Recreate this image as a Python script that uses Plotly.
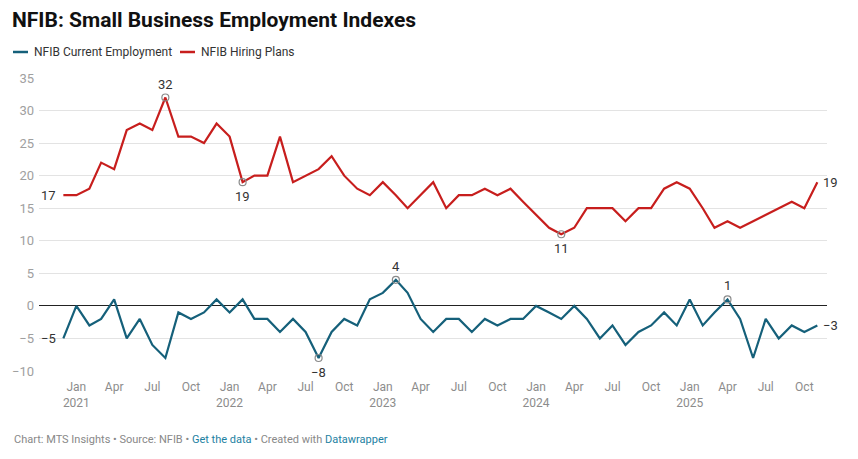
import pandas as pd
import plotly.graph_objects as go

# ---- data ----
months = [d.strftime("%Y-%m-%d") for d in pd.date_range("2020-12-01", periods=60, freq="MS")]

current_employment = [-5, 0, -3, -2, 1, -5, -2, -6, -8, -1, -2, -1, 1, -1, 1, -2, -2, -4, -2,
                      -4, -8, -4, -2, -3, 1, 2, 4, 2, -2, -4, -2, -2, -4, -2, -3, -2, -2, 0,
                      -1, -2, 0, -2, -5, -3, -6, -4, -3, -1, -3, 1, -3, -1, 1, -2, -8, -2,
                      -5, -3, -4, -3]

hiring_plans = [17, 17, 18, 22, 21, 27, 28, 27, 32, 26, 26, 25, 28, 26, 19, 20, 20, 26, 19,
                20, 21, 23, 20, 18, 17, 19, 17, 15, 17, 19, 15, 17, 17, 18, 17, 18, 16, 14,
                12, 11, 12, 15, 15, 15, 13, 15, 15, 18, 19, 18, 15, 12, 13, 12, 13, 14,
                15, 16, 15, 19]

tick_dates = ["2021-01-01", "2021-04-01", "2021-07-01", "2021-10-01",
              "2022-01-01", "2022-04-01", "2022-07-01", "2022-10-01",
              "2023-01-01", "2023-04-01", "2023-07-01", "2023-10-01",
              "2024-01-01", "2024-04-01", "2024-07-01", "2024-10-01",
              "2025-01-01", "2025-04-01", "2025-07-01", "2025-10-01"]
tick_labels = ["Jan<br>2021", "Apr", "Jul", "Oct",
               "Jan<br>2022", "Apr", "Jul", "Oct",
               "Jan<br>2023", "Apr", "Jul", "Oct",
               "Jan<br>2024", "Apr", "Jul", "Oct",
               "Jan<br>2025", "Apr", "Jul", "Oct"]

y_ticks = [-10, -5, 0, 5, 10, 15, 20, 25, 30, 35]

# highlighted points (index, position of label)
hiring_highlights = [(8, "above"), (14, "below"), (39, "below")]
employment_highlights = [(20, "below"), (26, "above"), (52, "above")]

# ---- style ----
BLUE = "#15607a"
RED = "#c71e1d"
FONT = "Roboto"
W, H = 858, 459
L, R, T, B = 39, 31, 77, 87
PW, PH = W - L - R, H - T - B


def px_x(x):
    return (x - L) / PW


def px_y(y):
    return (H - B - y) / PH


def fmt(v):
    return str(v).replace("-", "\u2212")


fig = go.Figure()
fig.add_trace(go.Scatter(x=months, y=current_employment, mode="lines",
                         line=dict(color=BLUE, width=2.2), name="NFIB Current Employment",
                         hoverinfo="skip"))
fig.add_trace(go.Scatter(x=months, y=hiring_plans, mode="lines",
                         line=dict(color=RED, width=2.2), name="NFIB Hiring Plans",
                         hoverinfo="skip"))

hx = [months[i] for i, _ in hiring_highlights] + [months[i] for i, _ in employment_highlights]
hy = [hiring_plans[i] for i, _ in hiring_highlights] + [current_employment[i] for i, _ in employment_highlights]
fig.add_trace(go.Scatter(x=hx, y=hy, mode="markers",
                         marker=dict(symbol="circle-open", size=7, color="#8a8a8a",
                                     line=dict(width=1.2, color="#8a8a8a")),
                         hoverinfo="skip"))

ann = []
lab_font = dict(family=FONT, size=13, color="#333333")
for series, hl in ((hiring_plans, hiring_highlights), (current_employment, employment_highlights)):
    for i, pos in hl:
        ann.append(dict(x=months[i], y=series[i], text=fmt(series[i]), showarrow=False,
                        font=lab_font, xanchor="center",
                        yanchor="bottom" if pos == "above" else "top",
                        yshift=4 if pos == "above" else -5))
    # first and last
    ann.append(dict(x=months[0], y=series[0], text=fmt(series[0]), showarrow=False,
                    font=lab_font, xanchor="right", yanchor="middle", xshift=-5))
    ann.append(dict(x=months[-1], y=series[-1], text=fmt(series[-1]), showarrow=False,
                    font=lab_font, xanchor="left", yanchor="middle", xshift=4))

# manual legend
shapes = []
legend_items = [("NFIB Current Employment", BLUE, 13), ("NFIB Hiring Plans", RED, 180)]
for name, col, x0 in legend_items:
    shapes.append(dict(type="line", xref="paper", yref="paper",
                       x0=px_x(x0), x1=px_x(x0 + 15), y0=px_y(52), y1=px_y(52),
                       line=dict(color=col, width=2.5)))
    ann.append(dict(xref="paper", yref="paper", x=px_x(x0 + 19), y=px_y(52),
                    text=name, showarrow=False, xanchor="left", yanchor="middle",
                    font=dict(family=FONT, size=12, color="#333333")))

# footer
ann.append(dict(xref="paper", yref="paper", x=px_x(12), y=px_y(439),
                text=("Chart: MTS Insights \u2022 Source: NFIB \u2022 "
                      "<span style='color:#1d81a2'>Get the data</span> \u2022 Created with "
                      "<span style='color:#1d81a2'>Datawrapper</span>"),
                showarrow=False, xanchor="left", yanchor="middle",
                font=dict(family=FONT, size=11, color="#888888")))

fig.update_layout(
    width=W, height=H,
    margin=dict(l=L, r=R, t=T, b=B),
    paper_bgcolor="white", plot_bgcolor="white",
    showlegend=False,
    title=dict(text="NFIB: Small Business Employment Indexes", x=12 / W, xanchor="left",
               xref="container", y=1 - 20 / H, yref="container", yanchor="middle",
               font=dict(family=FONT, size=21, color="#111111", weight=700)),
    font=dict(family=FONT),
    annotations=ann,
    shapes=shapes,
    xaxis=dict(type="date", range=["2020-10-04", "2025-11-24"],
               tickvals=tick_dates, ticktext=tick_labels,
               showgrid=False, zeroline=False, showline=False, ticks="",
               tickfont=dict(family=FONT, size=12, color="#8c8c8c"),
               ticklabelstandoff=6),
    yaxis=dict(range=[-10.15, 35.15], tickvals=y_ticks,
               showgrid=True, gridcolor="#e3e3e3", gridwidth=1,
               zeroline=True, zerolinecolor="#222222", zerolinewidth=1,
               showline=False, ticks="",
               tickfont=dict(family=FONT, size=13, color="#a0a0a0"),
               ticklabelstandoff=4),
)

fig.write_html("out.html", config={"displayModeBar": False},
               post_script="document.body.style.margin='0';document.body.style.overflow='hidden';")
